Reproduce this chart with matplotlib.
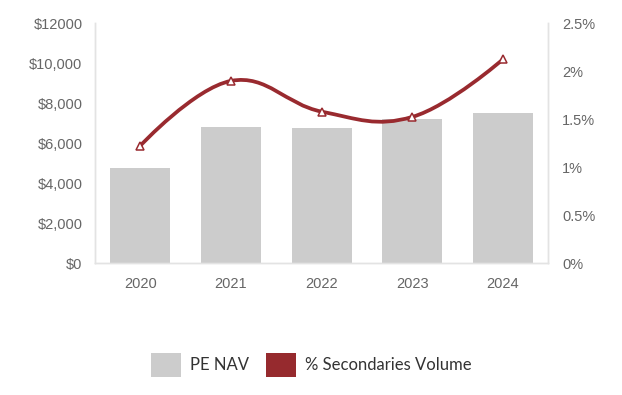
import matplotlib.pyplot as plt
from matplotlib.path import Path
from matplotlib.patches import PathPatch, Patch
import numpy as np

years = ['2020', '2021', '2022', '2023', '2024']
pe_nav = [4780, 6830, 6750, 7210, 7500]
sec_volume = [1.225, 1.9, 1.58, 1.525, 2.125]

left_ticks = [0, 2000, 4000, 6000, 8000, 10000, 12000]
left_labels = ['$0', '$2,000', '$4,000', '$6,000', '$8,000', '$10,000', '$12000']
right_ticks = [0, 0.5, 1, 1.5, 2, 2.5]
right_labels = ['0%', '0.5%', '1%', '1.5%', '2%', '2.5%']

bar_color = '#cccccc'
line_color = '#992a2f'
tick_color = '#666666'
spine_color = '#e3e3e3'


def spline_path(xs, ys, smoothing=1.5):
    # smooth curve through the points, cubic bezier segments
    denom = smoothing + 1
    n = len(xs)
    lc = [(xs[i], ys[i]) for i in range(n)]
    rc = [(xs[i], ys[i]) for i in range(n)]
    for i in range(1, n - 1):
        px, py = xs[i], ys[i]
        lx, ly = xs[i - 1], ys[i - 1]
        nx, ny = xs[i + 1], ys[i + 1]
        lcx = (smoothing * px + lx) / denom
        lcy = (smoothing * py + ly) / denom
        rcx = (smoothing * px + nx) / denom
        rcy = (smoothing * py + ny) / denom
        corr = (rcy - lcy) * (rcx - px) / (rcx - lcx) + py - rcy
        lc[i] = (lcx, lcy + corr)
        rc[i] = (rcx, rcy + corr)
    verts = [(xs[0], ys[0])]
    codes = [Path.MOVETO]
    for i in range(1, n):
        verts += [rc[i - 1], lc[i], (xs[i], ys[i])]
        codes += [Path.CURVE4] * 3
    return Path(verts, codes)


fig = plt.figure(figsize=(6.22, 3.95), dpi=100)
ax = fig.add_axes([0.1527, 0.3334, 0.7288, 0.6076])
x = np.arange(len(years))

ax.bar(x, pe_nav, width=0.66, color=bar_color, zorder=2)
ax.set_xlim(-0.5, len(years) - 0.5)
ax.set_ylim(0, 12000)
ax.set_yticks(left_ticks)
ax.set_yticklabels(left_labels)
ax.set_xticks(x)
ax.set_xticklabels(years)

ax2 = ax.twinx()
ax2.set_ylim(0, 2.5)
ax2.set_yticks(right_ticks)
ax2.set_yticklabels(right_labels)

path = spline_path(list(x.astype(float)), sec_volume)
ax2.add_patch(PathPatch(path, facecolor='none', edgecolor=line_color, lw=2.7,
                        capstyle='round', zorder=3))
ax2.plot(x, sec_volume, linestyle='none', marker='^', markersize=6,
         markerfacecolor='white', markeredgecolor=line_color, markeredgewidth=1.1,
         zorder=4)

for a in (ax, ax2):
    for s in a.spines.values():
        s.set_color(spine_color)
        s.set_linewidth(1)
    a.spines['top'].set_visible(False)
    a.tick_params(length=0, labelsize=10.5, labelcolor=tick_color)
    for lab in a.get_xticklabels() + a.get_yticklabels():
        lab.set_fontfamily('Liberation Sans')
ax.tick_params(axis='y', pad=9)
ax.tick_params(axis='x', pad=10)
ax2.tick_params(axis='y', pad=10)

handles = [Patch(facecolor=bar_color, label='PE NAV'),
           Patch(facecolor='#962a2e', label='% Secondaries Volume')]
fig.legend(handles=handles, loc='center', bbox_to_anchor=(0.5, 1 - 365 / 395),
           ncol=2, frameon=False, handlelength=1.8, handleheight=1.8,
           handletextpad=0.55, columnspacing=1.0,
           prop={'family': 'Lato', 'size': 12}, labelcolor='#333333')

fig.savefig('out.png', dpi=100)
